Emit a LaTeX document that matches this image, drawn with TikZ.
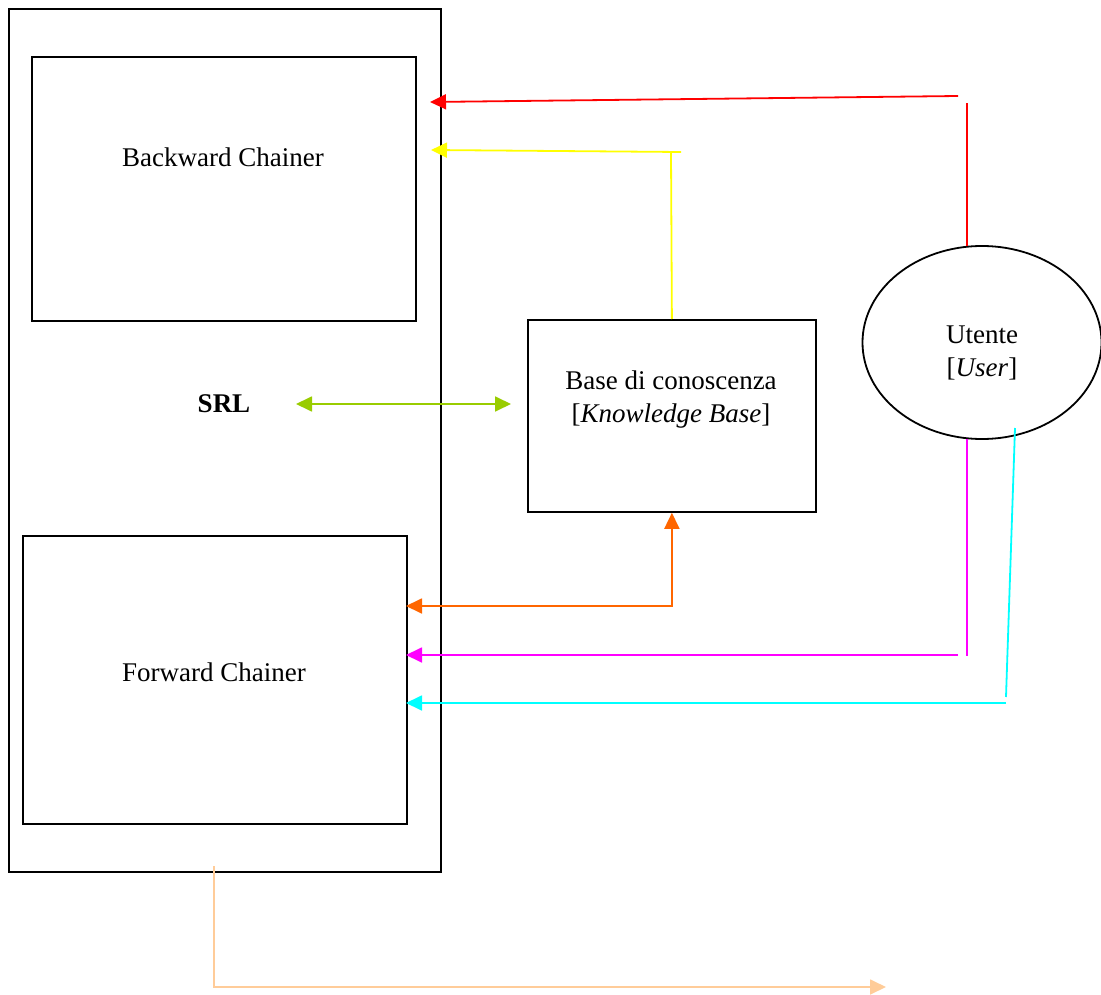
\documentclass[tikz,border=0pt]{standalone}
\usepackage{fontspec}
\setmainfont{Liberation Serif}
\usetikzlibrary{arrows.meta,shapes.geometric}
\definecolor{cgreen}{HTML}{99CC00}
\definecolor{corange}{HTML}{FF6600}
\definecolor{cpeach}{HTML}{FFCC99}
\definecolor{cyel}{HTML}{FFFF00}
\definecolor{cmag}{HTML}{FF00FF}
\definecolor{ccyan}{HTML}{00FFFF}
\begin{document}
\begin{tikzpicture}[x=1pt,y=-1pt,
  box/.style={draw=black, line width=1.8pt, inner sep=0pt, anchor=north west},
  lbl/.style={font=\fontsize{27}{33}\selectfont, align=center, inner sep=0pt},
  conn/.style={line width=1.8pt},
  tip/.style={-{Triangle[length=16pt,width=15pt]}},
  tips/.style={{Triangle[length=16pt,width=15pt]}-{Triangle[length=16pt,width=15pt]}}]
\useasboundingbox (0,0) rectangle (1101,995);
% boxes
\node[box, minimum width=432pt, minimum height=863pt] (srl) at (8,8) {};
\node[box, minimum width=384pt, minimum height=264pt] (bc) at (31,56) {};
\node[box, minimum width=384pt, minimum height=288pt] (fc) at (22,535) {};
\node[box, minimum width=288pt, minimum height=192pt] (kb) at (527,319) {};
\node[draw=black, line width=1.8pt, ellipse, minimum width=239pt, minimum height=193pt, inner sep=0pt] (user) at (982,342.5) {};
% labels
\node[lbl] (bclbl) at (223,157) {Backward Chainer};
\node[lbl] (fclbl) at (214,672) {Forward Chainer};
\node[lbl, font=\fontsize{27}{33}\selectfont\bfseries] (srllbl) at (224,404) {SRL};
\node[lbl] (kblbl) at (671,400) {Base di conoscenza\\{[}\textit{Knowledge Base}{]}};
\node[lbl] (userlbl) at (982,353) {Utente\\{[}\textit{User}{]}};
% coordinates
\coordinate (rtop) at (967,103);
\coordinate (rbot) at (967,246.5);
\coordinate (rstart) at (958,96);
\coordinate (rtip) at (430,102);
\coordinate (ystart) at (681,152);
\coordinate (ytip) at (431,150);
\coordinate (ycorner) at (671,152);
\coordinate (g1) at (296,404);
\coordinate (g2) at (511,404);
\coordinate (otip) at (406,606);
\coordinate (mtop) at (967,438.5);
\coordinate (mbot) at (967,656);
\coordinate (mstart) at (958,655);
\coordinate (mtip) at (406,655);
\coordinate (ctop) at (1015,428);
\coordinate (cbot) at (1006,697);
\coordinate (cstart) at (1006,703);
\coordinate (ctip) at (406,703);
\coordinate (ptop) at (214,866);
\coordinate (pcorner) at (214,987);
\coordinate (ptip) at (886,987);
% connectors
\draw[conn, red] (rbot) -- (rtop);
\draw[conn, red, tip] (rstart) -- (rtip);
\draw[conn, cyel] (kb.north) -- (ycorner);
\draw[conn, cyel, tip] (ystart) -- (ytip);
\draw[conn, cgreen, tips] (g1) -- (g2);
\draw[conn, corange, tips] (otip) -- (kb.south |- otip) -- (kb.south);
\draw[conn, cmag] (mtop) -- (mbot);
\draw[conn, cmag, tip] (mstart) -- (mtip);
\draw[conn, ccyan] (ctop) -- (cbot);
\draw[conn, ccyan, tip] (cstart) -- (ctip);
\draw[conn, cpeach, tip] (ptop) -- (pcorner) -- (ptip);
\end{tikzpicture}
\end{document}
